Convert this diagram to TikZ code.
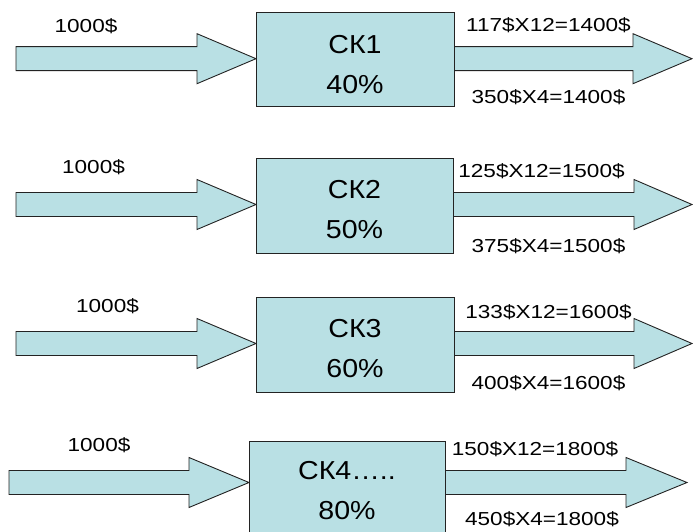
\documentclass[tikz,border=0pt]{standalone}
\usepackage{fontspec}
\setmainfont[FakeStretch=1.2]{Liberation Sans}
\newfontfamily\boxfont[FakeStretch=1.1]{Liberation Sans}
\definecolor{fillc}{RGB}{185,224,228}
\definecolor{edgec}{RGB}{35,35,35}
\newcommand\blkarrow[4]{% x start, x neck, x tip, y centre
  \draw[flow] (#1,#4-12) -- (#2,#4-12) -- (#2,#4-25) -- (#3,#4) -- (#2,#4+25) -- (#2,#4+12) -- (#1,#4+12) -- cycle;}
\begin{document}
\begin{tikzpicture}[x=1pt,y=-1pt,
  box/.style={draw=edgec,line width=0.9pt,fill=fillc,inner sep=0pt,anchor=north west},
  flow/.style={draw=edgec,line width=0.9pt,fill=fillc,line join=miter},
  lbl/.style={font=\fontsize{18.8}{22}\selectfont,inner sep=0pt,anchor=base},
  boxtxt/.style={font=\boxfont\fontsize{26}{40}\selectfont,align=center,inner sep=0pt}]
\useasboundingbox (0,0) rectangle (693,532);
\clip (0,0) rectangle (693,532);
% arrows
\blkarrow{16}{197}{256}{58.7}
\blkarrow{454}{633}{692}{58.7}
\blkarrow{16}{197}{256}{204.5}
\blkarrow{453}{634}{692}{204.5}
\blkarrow{16}{197}{256}{343.5}
\blkarrow{454}{634}{692}{343.5}
\blkarrow{9}{189}{249}{482.5}
\blkarrow{445}{626}{687}{482.5}
% boxes
\node[box,minimum width=198pt,minimum height=94pt] (b1) at (256,12) {};
\node[box,minimum width=197pt,minimum height=95pt] (b2) at (256,158) {};
\node[box,minimum width=198pt,minimum height=95pt] (b3) at (256,297) {};
\node[box,minimum width=196pt,minimum height=110pt] (b4) at (249,441) {};
% box texts
\node[boxtxt] (t1) at (355,65) {СК1\\40\%};
\node[boxtxt] (t2) at (354.5,210) {СК2\\50\%};
\node[boxtxt] (t3) at (355,349) {СК3\\60\%};
\node[boxtxt] (t4) at (347,491) {СК4…..\\80\%};
% labels
\node[lbl] (i1) at (86,33) {1000\$};
\node[lbl] (i2) at (93.5,173) {1000\$};
\node[lbl] (i3) at (107.5,312) {1000\$};
\node[lbl] (i4) at (99,451) {1000\$};
\node[lbl] (a1) at (548.5,32) {117\$X12=1400\$};
\node[lbl] (c1) at (548.5,104) {350\$X4=1400\$};
\node[lbl] (a2) at (541.5,177) {125\$X12=1500\$};
\node[lbl] (c2) at (548.5,252) {375\$X4=1500\$};
\node[lbl] (a3) at (548.5,318) {133\$X12=1600\$};
\node[lbl] (c3) at (548.5,389) {400\$X4=1600\$};
\node[lbl] (a4) at (535,455) {150\$X12=1800\$};
\node[lbl] (c4) at (542,525) {450\$X4=1800\$};
\end{tikzpicture}
\end{document}
